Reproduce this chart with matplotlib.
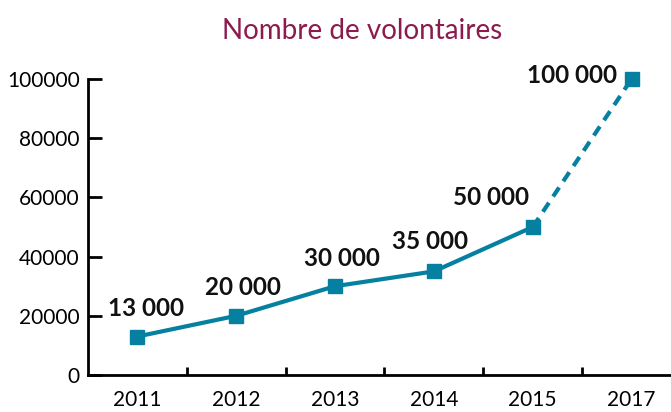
import numpy as np
import matplotlib
matplotlib.use("Agg")
import matplotlib.pyplot as plt

annees = ["2011", "2012", "2013", "2014", "2015", "2017"]
volontaires = [13000, 20000, 30000, 35000, 50000, 100000]
etiquettes = ["13 000", "20 000", "30 000", "35 000", "50 000", "100 000"]
# décalage des étiquettes (pixels)
decalages = [(9, 28), (7, 28), (7, 28), (-4, 30), (-42, 29), (-60, 3)]

bleu = "#0580A0"
police = ["Lato", "DejaVu Sans"]
plt.rcParams["font.family"] = police

fig = plt.figure(figsize=(6.71, 4.12), dpi=100)
ax = fig.add_axes([0.1311, 0.0898, 0.8838, 0.7185])

x = np.arange(len(annees))
ax.plot(x[:5], volontaires[:5], color=bleu, lw=3, solid_capstyle="butt", zorder=2)
ax.plot(x[4:], volontaires[4:], color=bleu, lw=3, ls=(0, (2.6, 1.8)), zorder=2)
ax.plot(x, volontaires, ls="none", marker="s", ms=10, color=bleu, clip_on=False, zorder=3)

for xi, v, t, d in zip(x, volontaires, etiquettes, decalages):
    ax.annotate(t, (xi, v), xytext=d, textcoords="offset pixels",
                ha="center", va="center", fontsize=17.5, fontweight="bold",
                color="#111111")

ax.set_xlim(-0.5, len(annees) - 0.5)
ax.set_ylim(0, 100000)
ax.set_yticks([0, 20000, 40000, 60000, 80000, 100000])
ax.set_xticks(x)
ax.set_xticklabels(annees)
ax.set_xticks(x[:-1] + 0.5, minor=True)

ax.tick_params(axis="y", direction="in", length=10, width=2, labelsize=15, pad=6)
ax.tick_params(axis="x", which="major", length=0, labelsize=15, pad=11)
ax.tick_params(axis="x", which="minor", direction="in", length=6, width=2)

for s in ["top", "right"]:
    ax.spines[s].set_visible(False)
for s in ["left", "bottom"]:
    ax.spines[s].set_linewidth(2)

fig.text(0.54, 0.925, "Nombre de volontaires", ha="center", va="center",
         fontsize=20, color="#8C1A4D")

fig.savefig("out.png", dpi=100)
